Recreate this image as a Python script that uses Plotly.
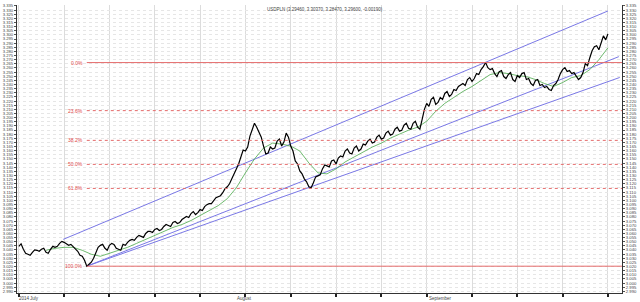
import numpy as np
import plotly.graph_objects as go

# ---- data (x = trading-day index, 0 = Mon 30 Jun 2014; weekends removed) ----
price_step = 0.25
price = [
    3.0444, 3.0474, 3.0408, 3.0360, 3.0348, 3.0336, 3.0372, 3.0402, 3.0396, 3.0384,
    3.0408, 3.0420, 3.0372, 3.0360, 3.0408, 3.0444, 3.0432, 3.0444, 3.0480, 3.0504,
    3.0492, 3.0474, 3.0456, 3.0468, 3.0444, 3.0420, 3.0384, 3.0336, 3.0324, 3.0276,
    3.0204, 3.0228, 3.0252, 3.0300, 3.0372, 3.0432, 3.0456, 3.0468, 3.0420, 3.0396,
    3.0456, 3.0480, 3.0468, 3.0420, 3.0408, 3.0396, 3.0468, 3.0456, 3.0492, 3.0516,
    3.0528, 3.0516, 3.0552, 3.0576, 3.0564, 3.0552, 3.0600, 3.0624, 3.0624, 3.0612,
    3.0648, 3.0660, 3.0636, 3.0648, 3.0684, 3.0708, 3.0696, 3.0684, 3.0732, 3.0744,
    3.0720, 3.0732, 3.0768, 3.0792, 3.0804, 3.0792, 3.0840, 3.0864, 3.0828, 3.0852,
    3.0888, 3.0876, 3.0924, 3.0948, 3.0960, 3.0960, 3.0996, 3.1032, 3.1044, 3.1056,
    3.1092, 3.1140, 3.1164, 3.1200, 3.1260, 3.1332, 3.1380, 3.1440, 3.1536, 3.1608,
    3.1596, 3.1644, 3.1776, 3.1860, 3.1932, 3.1884, 3.1812, 3.1764, 3.1656, 3.1560,
    3.1572, 3.1644, 3.1620, 3.1632, 3.1716, 3.1740, 3.1656, 3.1704, 3.1812, 3.1764,
    3.1656, 3.1596, 3.1476, 3.1440, 3.1356, 3.1320, 3.1260, 3.1224, 3.1164, 3.1152,
    3.1212, 3.1284, 3.1296, 3.1308, 3.1380, 3.1428, 3.1416, 3.1404, 3.1476, 3.1488,
    3.1440, 3.1512, 3.1536, 3.1524, 3.1596, 3.1620, 3.1572, 3.1560, 3.1632, 3.1656,
    3.1596, 3.1620, 3.1680, 3.1668, 3.1716, 3.1740, 3.1692, 3.1704, 3.1764, 3.1788,
    3.1740, 3.1752, 3.1812, 3.1836, 3.1788, 3.1800, 3.1860, 3.1884, 3.1836, 3.1848,
    3.1908, 3.1932, 3.1872, 3.1860, 3.1932, 3.1956, 3.1884, 3.1860, 3.1980, 3.2100,
    3.2172, 3.2136, 3.2220, 3.2244, 3.2160, 3.2184, 3.2244, 3.2220, 3.2292, 3.2316,
    3.2256, 3.2280, 3.2340, 3.2328, 3.2376, 3.2400, 3.2412, 3.2388, 3.2460, 3.2484,
    3.2436, 3.2472, 3.2532, 3.2520, 3.2580, 3.2616, 3.2665, 3.2604, 3.2580, 3.2592,
    3.2532, 3.2496, 3.2556, 3.2568, 3.2496, 3.2472, 3.2520, 3.2544, 3.2460, 3.2436,
    3.2508, 3.2484, 3.2532, 3.2544, 3.2460, 3.2472, 3.2412, 3.2388, 3.2448, 3.2460,
    3.2388, 3.2400, 3.2364, 3.2376, 3.2340, 3.2328, 3.2388, 3.2412, 3.2460, 3.2532,
    3.2580, 3.2604, 3.2556, 3.2568, 3.2532, 3.2544, 3.2508, 3.2460, 3.2484, 3.2544,
    3.2652, 3.2628, 3.2724, 3.2808, 3.2856, 3.2868, 3.2820, 3.2892, 3.2988, 3.2940,
    3.3012,
]
ma_start = 3
ma = [
    3.0396, 3.0420, 3.0432, 3.0432, 3.0396, 3.0348, 3.0324, 3.0360, 3.0396, 3.0432,
    3.0480, 3.0528, 3.0576, 3.0624, 3.0672, 3.0708, 3.0756, 3.0816, 3.0876, 3.0936,
    3.1020, 3.1152, 3.1332, 3.1500, 3.1632, 3.1692, 3.1680, 3.1656, 3.1596, 3.1452,
    3.1332, 3.1320, 3.1380, 3.1464, 3.1524, 3.1584, 3.1644, 3.1692, 3.1752, 3.1800,
    3.1848, 3.1884, 3.1956, 3.2076, 3.2172, 3.2244, 3.2316, 3.2376, 3.2448, 3.2520,
    3.2544, 3.2532, 3.2508, 3.2496, 3.2460, 3.2412, 3.2376, 3.2424, 3.2484, 3.2508,
    3.2580, 3.2700, 3.2844,
]

fib_low = 3.0204
fib_high = 3.2665
fib_start = 7.5
fib_ratios = [0.0, 0.236, 0.382, 0.5, 0.618, 1.0]
fib_labels = ["0.0%", "23.6%", "38.2%", "50.0%", "61.8%", "100.0%"]

# channel / trend lines: (x0, y0, x1, y1)
channel_lines = [
    (4.9, 3.0528, 65.0, 3.3289),
    (7.5, 3.0204, 66.2, 3.2737),
    (7.5, 3.0204, 66.3, 3.2485),
]

week_ticks = list(range(0, 66, 5))
month_labels = [("2014", -0.2), ("July", 1.0), ("August", 23.8), ("September", 45.0)]
title_text = "USDPLN (3.29460, 3.30370, 3.28470, 3.29600, -0.00190)"

y_min, y_max = 2.9880, 3.3361
x_min, x_max = -0.2, 66.55
ytick_vals = [round(2.990 + 0.005 * k, 3) for k in range(70)]
ytick_text = ["%.3f" % v for v in ytick_vals]

# ---- figure ----
px = np.arange(len(price)) * price_step
mx = np.arange(len(ma)) + ma_start

fig = go.Figure()
for (x0, y0, x1, y1) in channel_lines:
    fig.add_trace(go.Scatter(x=[x0, x1], y=[y0, y1], mode="lines",
                             line=dict(color="#7a78e6", width=1), hoverinfo="skip"))
fig.add_trace(go.Scatter(x=mx, y=ma, mode="lines",
                         line=dict(color="#4aa84a", width=0.8), hoverinfo="skip"))
fig.add_trace(go.Scatter(x=px, y=price, mode="lines",
                         line=dict(color="#000000", width=1.2), hoverinfo="skip"))
fig.add_trace(go.Scatter(x=[x_min], y=[y_min], yaxis="y2", mode="markers",
                         marker=dict(opacity=0), hoverinfo="skip"))

for r, lab in zip(fib_ratios, fib_labels):
    lvl = fib_high - r * (fib_high - fib_low)
    solid = r in (0.0, 1.0)
    fig.add_shape(type="line", xref="x", yref="y", x0=fib_start, x1=x_max, y0=lvl, y1=lvl,
                  line=dict(color="#e46a6a", width=1, dash="solid" if solid else "dot"))
    fig.add_annotation(x=fib_start - 0.2, y=lvl, xref="x", yref="y", text=lab,
                       showarrow=False, xanchor="right", yanchor="middle",
                       font=dict(size=5, color="#e04848", family="Liberation Sans"))

for txt, xv in month_labels:
    fig.add_annotation(x=xv, y=-0.005, xref="x", yref="paper", text=txt, showarrow=False,
                       xanchor="left", yanchor="top",
                       font=dict(size=4.5, color="#444", family="Liberation Sans"))

fig.add_annotation(x=0.509, y=1.0, xref="paper", yref="paper", text=title_text,
                   showarrow=False, xanchor="center", yanchor="top",
                   font=dict(size=4.5, color="#444", family="Liberation Sans"))

yax = dict(range=[y_min, y_max], tickvals=ytick_vals, ticktext=ytick_text,
           tickfont=dict(size=4.2, color="#444", family="Liberation Sans"),
           ticks="outside", ticklen=2, tickcolor="#555", showline=True, linecolor="#333",
           linewidth=1, showgrid=True, gridcolor="#e6e6e6", gridwidth=1, griddash="dot",
           zeroline=False, fixedrange=True)

fig.update_layout(
    width=640, height=302, margin=dict(l=13, r=14, t=3, b=9),
    paper_bgcolor="white", plot_bgcolor="white", showlegend=False,
    xaxis=dict(range=[x_min, x_max], tickvals=week_ticks, showticklabels=False,
               ticks="outside", ticklen=3, tickwidth=2, tickcolor="#222",
               showline=True, linecolor="#333", linewidth=1,
               showgrid=True, gridcolor="#dcdcdc", gridwidth=1, zeroline=False),
    yaxis=yax,
    yaxis2=dict(yax, overlaying="y", side="right", showgrid=False),
)

fig.write_html("out.html")
